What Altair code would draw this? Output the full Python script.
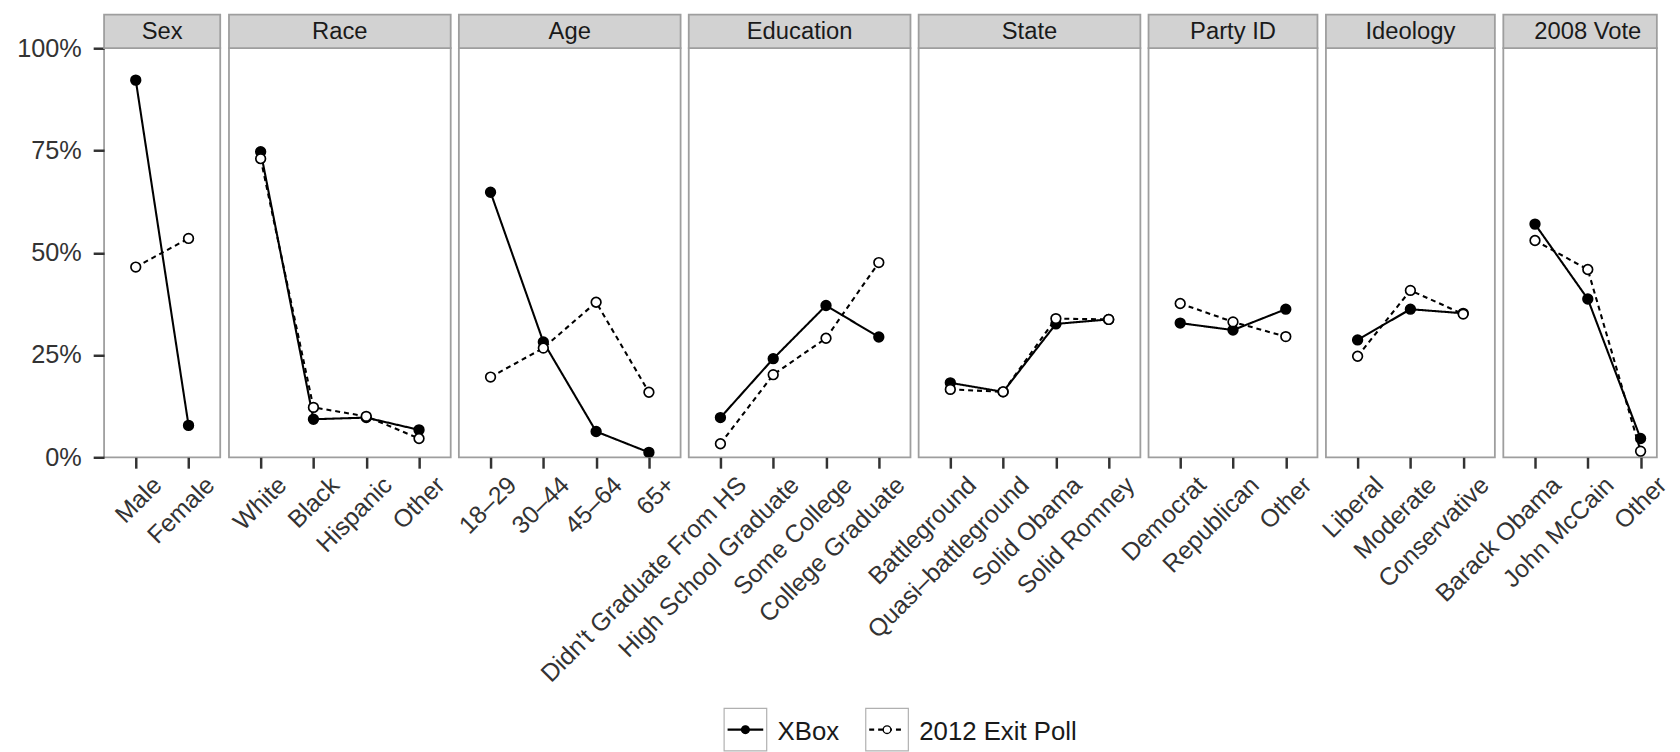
import altair as alt
import pandas as pd

# ---------------- data ----------------
groups = ["Sex", "Race", "Age", "Education", "State", "Party ID", "Ideology", "2008 Vote"]
categories = [
    ["Male", "Female"],
    ["White", "Black", "Hispanic", "Other"],
    ["18\u201329", "30\u201344", "45\u201364", "65+"],
    ["Didn't Graduate From HS", "High School Graduate", "Some College", "College Graduate"],
    ["Battleground", "Quasi\u2013battleground", "Solid Obama", "Solid Romney"],
    ["Democrat", "Republican", "Other"],
    ["Liberal", "Moderate", "Conservative"],
    ["Barack Obama", "John McCain", "Other"],
]
xbox_values = [
    [0.922, 0.078],
    [0.747, 0.093, 0.097, 0.067],
    [0.648, 0.282, 0.063, 0.012],
    [0.097, 0.241, 0.371, 0.294],
    [0.182, 0.160, 0.326, 0.337],
    [0.328, 0.311, 0.362],
    [0.287, 0.362, 0.352],
    [0.570, 0.387, 0.046],
]
exit_values = [
    [0.465, 0.535],
    [0.730, 0.122, 0.100, 0.046],
    [0.196, 0.267, 0.379, 0.159],
    [0.033, 0.202, 0.291, 0.476],
    [0.166, 0.160, 0.339, 0.337],
    [0.376, 0.331, 0.295],
    [0.247, 0.408, 0.350],
    [0.530, 0.459, 0.015],
]
series = ["XBox", "2012 Exit Poll"]
y_ticks = [0, 0.25, 0.5, 0.75, 1.0]

# ---------------- style ----------------
FONT = "Liberation Sans"
TXT = "#333333"
BORDER = "#9e9e9e"
STRIP_FILL = "#d2d2d2"
U = 53.3          # pixels per category step
GAP = 8.1
LAST_W = 155      # last panel is cut at the right edge of the page
PANEL_H = 413
STRIP_H = 34

dash_scale = alt.Scale(domain=series, range=[[1, 0], [5, 4]])
fill_scale = alt.Scale(domain=series, range=["black", "white"])


def make_panel(i):
    cats = categories[i]
    n = len(cats)
    last = i == len(groups) - 1
    if last:
        w = LAST_W
        xscale = alt.Scale(type="point", domain=cats, padding=0,
                           range=[0.6 * U, 0.6 * U + (n - 1) * U])
    else:
        w = (n + 0.2) * U
        xscale = alt.Scale(type="point", domain=cats, padding=0.6)
    rows = []
    for s, vals in zip(series, [xbox_values[i], exit_values[i]]):
        for k, (c, v) in enumerate(zip(cats, vals)):
            rows.append({"cat": c, "series": s, "value": v, "idx": k})
    df = pd.DataFrame(rows)

    x = alt.X(
        "cat:N",
        sort=cats,
        scale=xscale,
        axis=alt.Axis(
            title=None, labelAngle=-45, labelAlign="right", labelBaseline="top",
            tickSize=11, labelPadding=4, labelOffset=13, domain=False, grid=False,
            labelLimit=500, labelFontSize=25,
        ),
    )
    if i == 0:
        y = alt.Y(
            "value:Q",
            scale=alt.Scale(domain=[0, 1], nice=False),
            axis=alt.Axis(values=y_ticks, format=".0%", title=None, tickSize=11,
                          labelPadding=12, domain=False, grid=False, labelFontSize=25.5),
        )
    else:
        y = alt.Y("value:Q", scale=alt.Scale(domain=[0, 1], nice=False), axis=None)

    lines = alt.Chart(df).mark_line(color="black", strokeWidth=2.1, clip=True).encode(
        x=x, y=y,
        strokeDash=alt.StrokeDash("series:N", scale=dash_scale, legend=None),
        order=alt.Order("idx:Q"),
    )
    points = alt.Chart(df).mark_point(
        filled=True, shape="circle", size=95, stroke="black", strokeWidth=1.7,
        opacity=1, clip=True,
    ).encode(
        x=x, y=y,
        fill=alt.Fill("series:N", scale=fill_scale, legend=None),
    )

    sdf = pd.DataFrame({"g": [groups[i]]})
    strip_bg = alt.Chart(sdf).mark_rect(
        fill=STRIP_FILL, stroke=BORDER, strokeWidth=1.8,
    ).encode(
        x=alt.value(0), x2=alt.value(w), y=alt.value(-STRIP_H), y2=alt.value(0),
    )
    strip_w = (n + 0.2) * U
    strip_txt = alt.Chart(sdf).mark_text(
        font=FONT, fontSize=24, color="#1a1a1a", baseline="middle", align="center",
    ).encode(
        text="g:N", x=alt.value(strip_w / 2), y=alt.value(-STRIP_H / 2 + 0.5),
    )
    return alt.layer(strip_bg, strip_txt, lines, points).properties(
        width=w, height=PANEL_H,
        view=alt.ViewBackground(fill="white", stroke=BORDER, strokeWidth=1.8),
    )


panels = [make_panel(i) for i in range(len(groups))]
main = alt.hconcat(*panels, spacing=GAP, bounds="flush")

# ---------------- legend ----------------
leg_df = pd.DataFrame({"series": series})
leg_x = alt.X("series:N", sort=series,
              scale=alt.Scale(type="point", domain=series, range=[626, 769], padding=0),
              axis=None)
KEY = 43
keys = alt.Chart(leg_df).mark_point(
    shape="square", size=KEY * KEY, filled=True, fill="white", stroke="#b0b0b0",
    strokeWidth=1.2, opacity=1, xOffset=KEY / 2,
).encode(x=leg_x, y=alt.value(22))
key_lines = alt.Chart(leg_df).mark_point(
    shape="M-1,0L1,0", size=36 * 36, filled=False, color="black", strokeWidth=2.4,
    opacity=1, xOffset=KEY / 2,
).encode(
    x=leg_x, y=alt.value(22),
    strokeDash=alt.StrokeDash("series:N", scale=dash_scale, legend=None),
)
key_pts = alt.Chart(leg_df).mark_point(
    filled=True, shape="circle", size=60, stroke="black", strokeWidth=1.4,
    opacity=1, xOffset=KEY / 2,
).encode(
    x=leg_x, y=alt.value(22),
    fill=alt.Fill("series:N", scale=fill_scale, legend=None),
)
key_txt = alt.Chart(leg_df).mark_text(
    font=FONT, fontSize=26, color="#1a1a1a", align="left", baseline="middle", dx=54,
).encode(x=leg_x, y=alt.value(24), text="series:N")
legend = alt.layer(keys, key_lines, key_pts, key_txt).properties(
    width=1100, height=44,
    view=alt.ViewBackground(stroke="transparent", fill="transparent"),
)

chart = alt.vconcat(main, legend, spacing=17).properties(
    padding={"top": 1, "left": 7, "right": 0, "bottom": 0},
    background="white",
).configure_axis(
    labelFont=FONT, labelColor=TXT,
    tickColor="#333333", tickWidth=2.5,
)

chart.save("out.html", embed_options={"renderer": "svg", "actions": False})
